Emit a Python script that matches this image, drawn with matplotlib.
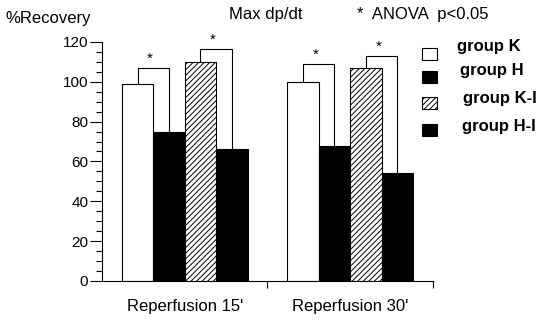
import matplotlib
matplotlib.use("Agg")
import matplotlib.pyplot as plt
from matplotlib.patches import Rectangle

plt.rcParams["font.family"] = ["Liberation Sans", "DejaVu Sans"]
plt.rcParams["hatch.linewidth"] = 0.7

periods = ["Reperfusion 15'", "Reperfusion 30'"]
groups = ["group K", "group H", "group K-I", "group H-I"]
values = {
    "group K": [99, 100],
    "group H": [75, 68],
    "group K-I": [110, 107],
    "group H-I": [66, 54],
}
# significance brackets: (period index, bar a, bar b, bracket height)
brackets = [(0, 0, 1, 107), (0, 2, 3, 116.5), (1, 0, 1, 109), (1, 2, 3, 113)]

faces = ["white", "black", "white", "black"]
hatches = [None, None, "//////", None]

fig = plt.figure(figsize=(5.37, 3.2), dpi=100)
ax = fig.add_axes([0.19, 0.122, 0.616, 0.747])

w = 0.19
centers = [0.5, 1.5]
offsets = [-1.5 * w, -0.5 * w, 0.5 * w, 1.5 * w]

for i, g in enumerate(groups):
    xs = [c + offsets[i] for c in centers]
    ax.bar(xs, values[g], width=w, color=faces[i], edgecolor="black",
           linewidth=0.8, hatch=hatches[i])

for p, a, b, h in brackets:
    xa = centers[p] + offsets[a]
    xb = centers[p] + offsets[b]
    ya = values[groups[a]][p]
    yb = values[groups[b]][p]
    ax.plot([xa, xa, xb, xb], [ya, h, h, yb], color="black", lw=0.8,
            clip_on=False)
    ax.text((xa + xb) / 2 - 0.02, h + 1.0, "*", ha="center", va="bottom",
            fontsize=11)

ax.set_xlim(0, 2)
ax.set_ylim(0, 120)
ax.set_yticks(range(0, 121, 20))
ax.set_yticks(range(0, 121, 5), minor=True)
ax.tick_params(axis="y", which="major", length=9, width=0.8, pad=1,
               labelsize=11)
ax.tick_params(axis="y", which="minor", length=4.5, width=0.8)
ax.set_xticks([1, 2])
ax.set_xticklabels([])
ax.set_xticks(centers, minor=True)
ax.set_xticklabels(periods, minor=True)
ax.tick_params(axis="x", which="major", length=5, width=0.8)
ax.tick_params(axis="x", which="minor", length=0, pad=13, labelsize=12)
for s in ["top", "right"]:
    ax.spines[s].set_visible(False)
for s in ["left", "bottom"]:
    ax.spines[s].set_linewidth(0.8)

fig.text(5 / 537, 1 - 18 / 320, "%Recovery", fontsize=12, va="center")
fig.text(229 / 537, 1 - 14 / 320, "Max dp/dt", fontsize=12, va="center")
fig.text(357 / 537, 1 - 14 / 320, "*  ANOVA  p<0.05", fontsize=12,
         va="center")

# legend drawn by hand
box_y = [54, 77, 103, 130]
text_pos = [(457, 47), (460, 71), (463, 99), (462, 126)]
for i, g in enumerate(groups):
    fig.patches.append(Rectangle((422 / 537, 1 - (box_y[i] + 6) / 320),
                                 15 / 537, 12 / 320, transform=fig.transFigure,
                                 facecolor=faces[i], edgecolor="black",
                                 linewidth=0.8, hatch=hatches[i]))
    fig.text(text_pos[i][0] / 537, 1 - text_pos[i][1] / 320, g,
             fontsize=12, fontweight="bold", va="center")

fig.savefig("out.png", dpi=100)
plt.close()
